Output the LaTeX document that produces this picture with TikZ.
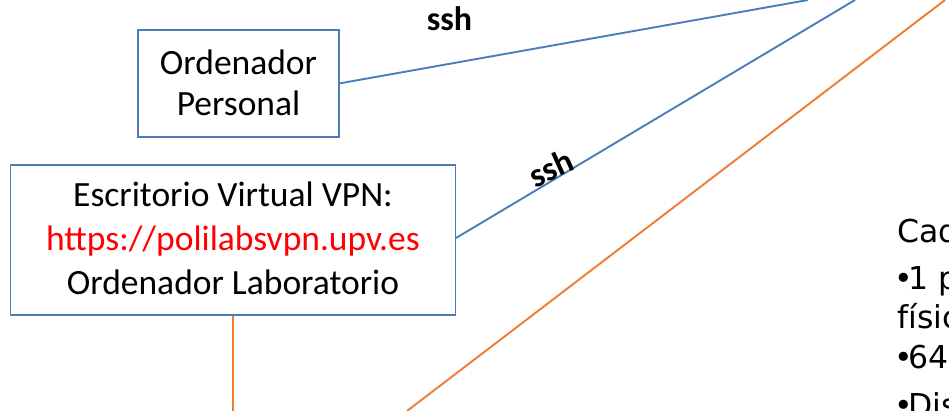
\documentclass[tikz,border=0pt]{standalone}
\usepackage{fontspec}
\setmainfont{Carlito}
\newfontfamily\verd{DejaVu Sans}
\definecolor{lnblue}{HTML}{4A7EBB}
\definecolor{lnorange}{HTML}{ED7D31}
\definecolor{urlred}{HTML}{FF0000}
\newcommand\bulmark{\makebox[11pt][l]{\hspace*{-2.5pt}•}}
\tikzset{
  boxnode/.style={draw=lnblue, line width=1.8pt, fill=white, align=center, inner sep=0pt,
                  font=\fontsize{35.5}{41}\selectfont},
  blueline/.style={draw=lnblue, line width=1.9pt},
  orangeline/.style={draw=lnorange, line width=1.9pt},
  sshlab/.style={font=\fontsize{34}{34}\selectfont\bfseries, inner sep=0pt},
  sidetext/.style={font=\verd\fontsize{31.5}{36}\selectfont, inner sep=0pt, anchor=base west}
}
\begin{document}
\begin{tikzpicture}[x=1pt,y=-1pt]
\useasboundingbox (0,0) rectangle (949,411);
\clip (0,0) rectangle (949,411);
\fill[white] (0,0) rectangle (949,411);

% off-picture ends of the connectors
\coordinate (srvA) at (808,0);
\coordinate (srvB) at (855,0);
\coordinate (srvC) at (945,0);
\coordinate (botA) at (407,411);
\coordinate (botB) at (233,411);

% connectors (drawn first, boxes on top)
\draw[blueline] (339,83.5) coordinate (pcE) -- (srvA);
\draw[blueline] (456,238) coordinate (vpnE) -- (srvB);
\draw[orangeline] (srvC) -- (botA);

% boxes
\node[boxnode, minimum width=201pt, minimum height=107pt, text depth=2pt] (pc) at (238.5,83.5)
  {Ordenador\\Personal};
\node[boxnode, font=\fontsize{35.5}{44}\selectfont, minimum width=445pt, minimum height=150pt, text depth=3pt] (vpn) at (233,240)
  {Escritorio Virtual VPN:\\\textcolor{urlred}{https://polilabsvpn.upv.es}\\Ordenador Laboratorio};

\draw[orangeline] (vpn.south) -- (botB);

% labels
\node[sshlab, anchor=base] (ssh1) at (449.5,31) {ssh};
\node[sshlab, rotate=24] (ssh2) at (551,168) {ssh};

% right-hand text (cut by the picture edge)
\node[sidetext] (r1) at (897,243) {Cad};
\node[sidetext] (r2) at (897,289) {\bulmark 1 p};
\node[sidetext] (r3) at (897,328) {físic};
\node[sidetext] (r4) at (897,368) {\bulmark 64};
\node[sidetext] (r5) at (897,416) {\bulmark Dis};
\end{tikzpicture}
\end{document}
